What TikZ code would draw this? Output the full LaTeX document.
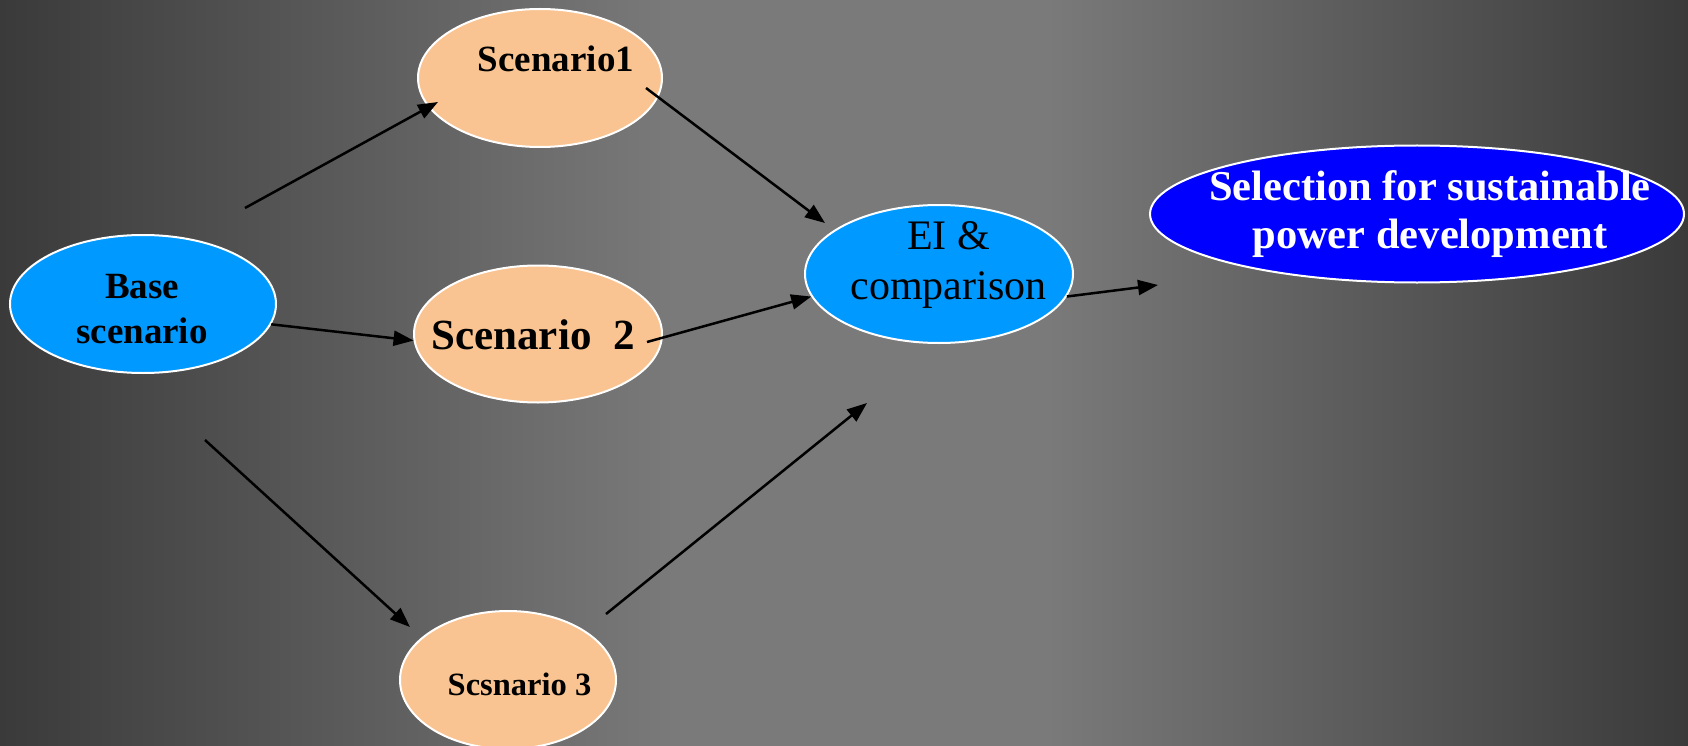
\documentclass[tikz,border=0pt]{standalone}
\usepackage{fontspec}
\setmainfont{Liberation Serif}
\usetikzlibrary{arrows.meta,shapes.geometric}
\definecolor{peach}{HTML}{F9C491}
\definecolor{skyblue}{HTML}{0099FF}
\definecolor{deepblue}{HTML}{0000FF}
\definecolor{bgdark}{HTML}{3A3A3A}
\definecolor{bglight}{HTML}{7A7A7A}
\pgfdeclarehorizontalshading{bgshade}{100bp}{color(0bp)=(bgdark); color(25bp)=(bgdark); color(45bp)=(bglight); color(56bp)=(bglight); color(75bp)=(bgdark); color(100bp)=(bgdark)}

\begin{document}
\begin{tikzpicture}[x=1pt,y=-1pt,
    bubble/.style={ellipse,draw=white,line width=2pt,inner sep=0pt,minimum height=138},
    scen/.style={bubble,fill=peach},
    lbl/.style={inner sep=0pt,align=center},
    arr/.style={-{Triangle[length=20pt,width=15pt]},line width=2.5pt}]
    % background
    \begin{scope}[y=1pt]
      \shade[shading=bgshade] (0,-746) rectangle (1688,0);
    \end{scope}
    \useasboundingbox (0,0) rectangle (1688,746);

    % ellipses
    \node[bubble,fill=skyblue,minimum width=266] (base) at (143,304) {};
    \node[scen,minimum width=244] (s1) at (540,78) {};
    \node[scen,minimum width=248,minimum height=137] (s2) at (538,334) {};
    \node[scen,minimum width=216] (s3) at (508,680) {};
    \node[bubble,fill=skyblue,minimum width=268] (ei) at (939,274) {};
    \node[bubble,fill=deepblue,minimum width=534,minimum height=137] (sel) at (1417,214) {};

    % texts
    \node[lbl,font=\bfseries\fontsize{37}{45}\selectfont] (baset) at (142,309) {Base\\scenario};
    \node[lbl,font=\bfseries\fontsize{37}{40}\selectfont] (s1t) at (556,58.5) {Scenario1};
    \node[lbl,font=\bfseries\fontsize{43}{46}\selectfont] (s2t) at (533,334.5) {Scenario\ \ 2};
    \node[lbl,font=\bfseries\fontsize{32.5}{36}\selectfont] (s3t) at (519.5,684) {Scsnario 3};
    \node[lbl,font=\fontsize{42}{50}\selectfont] (eit) at (948.5,265) {EI \&\\comparison};
    \node[lbl,text=white,font=\bfseries\fontsize{42.5}{48}\selectfont] (selt) at (1430,214) {Selection for sustainable\\power development};

    % free ends
    \coordinate (b1) at (245,208);
    \coordinate (s1in) at (438,102);
    \coordinate (s1out) at (646,88);
    \coordinate (eiin1) at (825,223);
    \coordinate (s2out) at (647,342);
    \coordinate (b3) at (205,440);
    \coordinate (s3in) at (410,627);
    \coordinate (s3out) at (606,614);
    \coordinate (eiin3) at (867,403);
    \coordinate (selin) at (1158,285);

    % connectors
    \draw[arr] (b1) -- (s1in);
    \draw[arr] (base.-9) -- (s2.183);
    \draw[arr] (b3) -- (s3in);
    \draw[arr] (s1out) -- (eiin1);
    \draw[arr] (s2out) -- (ei.190);
    \draw[arr] (s3out) -- (eiin3);
    \draw[arr] (ei.-10) -- (selin);
\end{tikzpicture}
\end{document}
